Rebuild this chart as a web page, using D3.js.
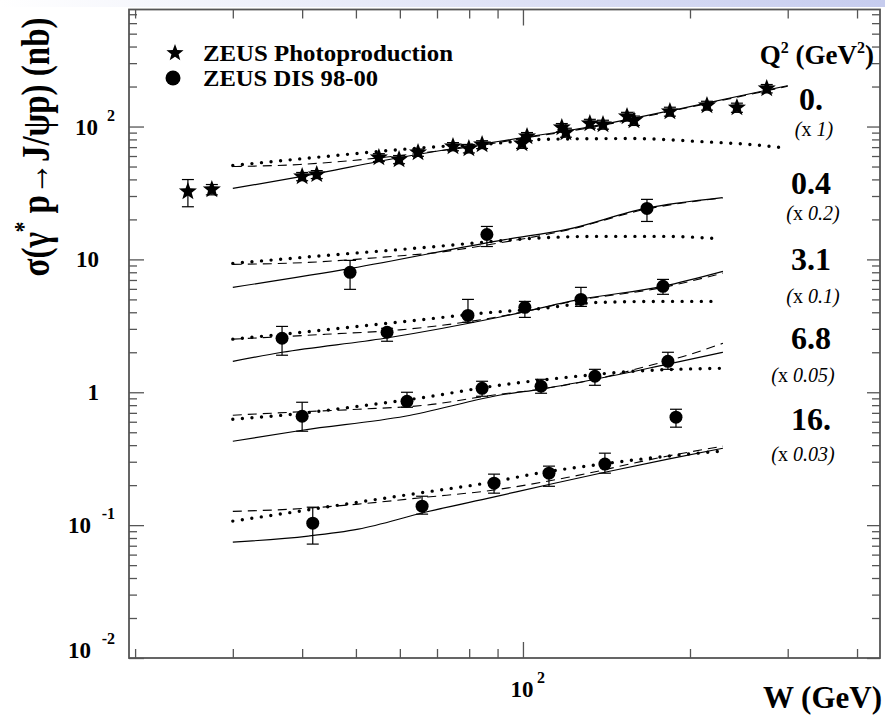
<!DOCTYPE html>
<html>
<head>
<meta charset="utf-8">
<script src="https://cdn.jsdelivr.net/npm/d3@7"></script>
<style>
  body { margin: 0; background: #fff; }
  svg { display: block; }
  text { font-family: "Liberation Serif", "Times New Roman", serif; font-weight: bold; fill: #000; }
</style>
</head>
<body>
<svg width="885" height="715"></svg>
<script>
// ---- data ----
// photoproduction, Q^2 = 0 (stars)
var photoW = [24.9, 27.5, 40.0, 42.5, 55.0, 59.8, 64.7, 74.8, 79.9, 84.4, 99.6, 101.7, 117.5, 119.5, 132.0, 139.4, 154, 158.5, 184, 214.6, 243, 275]
var photoSigma = [32.4, 33.6, 42.1, 43.6, 58.5, 56.5, 63.7, 70.7, 68.3, 73.2, 74.5, 84.1, 98.3, 90.1, 105.3, 103.5, 118.9, 110.9, 129.7, 143.9, 138.9, 193.1]
var photoErr = [7.5, 3, 3, 3, 4, 4, 4, 5, 5, 5, 6, 6, 7, 7, 8, 8, 9, 9, 10, 11, 11, 14]

// DIS 98-00, already multiplied by the factor shown on the right
var dis04W = [48.8, 86.1, 167.3]
var dis04Sigma = [7.99, 15.4, 24.2]
var dis04Lo = [5.95, 12.5, 19.3]
var dis04Hi = [9.83, 17.7, 28.3]

var dis31W = [36.8, 56.9, 79.6, 100.8, 127.2, 178.8]
var dis31Sigma = [2.55, 2.83, 3.79, 4.36, 5.0, 6.27]
var dis31Lo = [1.90, 2.42, 3.36, 3.66, 4.43, 5.46]
var dis31Hi = [3.13, 3.03, 5.0, 4.83, 6.16, 7.07]

var dis68W = [40.0, 61.8, 84.4, 107.8, 134.8, 182.5]
var dis68Sigma = [0.66, 0.855, 1.07, 1.11, 1.32, 1.71]
var dis68Lo = [0.509, 0.771, 0.933, 0.983, 1.128, 1.488]
var dis68Hi = [0.841, 1.0, 1.21, 1.252, 1.488, 2.0]

var dis16W = [41.8, 65.8, 88.7, 111.4, 140.5, 188.7]
var dis16Sigma = [0.1035, 0.139, 0.207, 0.246, 0.288, 0.649]
var dis16Lo = [0.072, 0.121, 0.174, 0.196, 0.246, 0.546]
var dis16Hi = [0.1365, 0.165, 0.242, 0.278, 0.348, 0.745]

// model curves [W, sigma]
var q0Solid = [[30, 34.2], [40, 42.1], [60, 58.5], [100, 82.5], [130, 98.3], [200, 141.4], [300, 203]]
var q0Dashed = [[30, 50.0], [39.6, 51.8], [49.2, 55.5], [66.6, 63.7], [83.7, 72.0], [100, 81.5], [130, 97], [200, 140], [300, 201]]
var q0Dotted = [[30, 50.9], [44, 59.5], [66.6, 69.5], [92.8, 75.8], [104, 79.8], [158, 81.2], [208, 77.1], [257, 73.2], [293, 69.5]]

var q04Solid = [[30, 6.16], [49, 8.56], [92.8, 14.1], [120, 16.8], [166, 24.2], [229, 29.2]]
var q04Dashed = [[30, 9.17], [41, 9.49], [58.1, 10.53], [70.3, 11.29], [87.2, 12.96], [120, 16.6], [166, 23.8], [229, 29.0]]
var q04Dotted = [[30, 9.33], [44, 10.7], [66.6, 12.3], [92.8, 13.9], [104, 14.4], [137.6, 14.9], [181.6, 14.9], [219.7, 14.4]]

var q31Solid = [[30, 1.71], [36.8, 2.0], [56.4, 2.55], [92.8, 3.75], [126.7, 5.0], [178.8, 6.27], [229.3, 8.12]]
var q31Dashed = [[30, 2.51], [44, 2.73], [60, 2.95], [76, 3.3], [92.8, 3.78], [126.7, 4.95], [178.8, 6.15], [229.3, 7.9]]
var q31Dotted = [[30, 2.51], [38.4, 2.78], [50.5, 3.13], [66.6, 3.54], [88, 4.0], [104.2, 4.21], [137.6, 4.75], [181.6, 4.83], [226.6, 4.83]]

var q68Solid = [[30, 0.428], [40, 0.518], [61.3, 0.66], [92.8, 0.966], [107.3, 1.053], [134.8, 1.252], [181.6, 1.623], [229.3, 2.0]]
var q68Dashed = [[30, 0.672], [38.4, 0.708], [50.5, 0.745], [66.6, 0.799], [88, 0.949], [107.3, 1.054], [137.6, 1.274], [164.5, 1.542], [197.5, 1.897], [229.3, 2.335]]
var q68Dotted = [[30, 0.627], [38.4, 0.683], [50.5, 0.785], [66.6, 0.917], [88, 1.11], [120, 1.296], [157.9, 1.438], [229.3, 1.515]]

var q16Solid = [[30, 0.0745], [41, 0.0827], [50.5, 0.0933], [66.6, 0.125], [88, 0.162], [111.9, 0.203], [140.5, 0.25], [181.6, 0.313], [229.3, 0.379]]
var q16Dashed = [[30, 0.127], [38.4, 0.132], [50.5, 0.144], [66.6, 0.162], [88, 0.183], [120, 0.228], [181.6, 0.33], [229.3, 0.393]]
var q16Dotted = [[30, 0.1072], [38.4, 0.125], [50.5, 0.149], [66.6, 0.177], [88, 0.211], [104.2, 0.242], [137.6, 0.287], [181.6, 0.33], [226.6, 0.36]]

// ticks and labels
var xMinorTicks = [20, 30, 40, 50, 60, 70, 80, 90, 200, 300, 400]
var xMajorTicks = [100]
var yMajorTicks = [0.01, 0.1, 1, 10, 100]
var yMinorTicks = [0.02, 0.03, 0.04, 0.05, 0.06, 0.07, 0.08, 0.09,
  0.2, 0.3, 0.4, 0.5, 0.6, 0.7, 0.8, 0.9, 2, 3, 4, 5, 6, 7, 8, 9,
  20, 30, 40, 50, 60, 70, 80, 90, 200, 300, 400, 500, 600, 700]
var yLabelBase = ["10", "10", "1", "10", "10"]
var yLabelExp = ["-2", "-1", "", "", "2"]
var qLabels = ["0.", "0.4", "3.1", "6.8", "16."]
var qFactors = ["1", "0.2", "0.1", "0.05", "0.03"]

// ---- layout ----
var svg = d3.select("svg")
var plotL = 129, plotR = 880, plotT = 9.5, plotB = 658

var x = d3.scaleLog().domain([19.5, 440]).range([plotL, plotR])
var y = d3.scaleLog().domain([0.01, 760]).range([plotB, plotT])

// light slide band at the very top
var grad = svg.append("defs").append("linearGradient").attr("id", "band")
grad.append("stop").attr("offset", "0%").attr("stop-color", "#ffffff")
grad.append("stop").attr("offset", "100%").attr("stop-color", "#c6ccee")
svg.append("rect").attr("x", 0).attr("y", 0).attr("width", 885).attr("height", 7).attr("fill", "url(#band)")

// ticks on all four sides
var tickColor = "#555"
function ticks(axis, values, size, tx, ty) {
  var g = svg.append("g")
    .attr("transform", "translate(" + tx + "," + ty + ")")
    .call(axis.tickValues(values).tickSize(size).tickFormat(""))
  g.select(".domain").remove()
  g.selectAll("line").attr("stroke", tickColor).attr("stroke-width", 1.3)
}
ticks(d3.axisTop(x), xMinorTicks, 9, 0, plotB)
ticks(d3.axisTop(x), xMajorTicks, 16, 0, plotB)
ticks(d3.axisBottom(x), xMinorTicks, 9, 0, plotT)
ticks(d3.axisBottom(x), xMajorTicks, 16, 0, plotT)
ticks(d3.axisRight(y), yMinorTicks, 8, plotL, 0)
ticks(d3.axisRight(y), yMajorTicks, 15, plotL, 0)
ticks(d3.axisLeft(y), yMinorTicks, 8, plotR, 0)
ticks(d3.axisLeft(y), yMajorTicks, 13, plotR, 0)

// frame
svg.append("rect")
  .attr("x", plotL).attr("y", plotT)
  .attr("width", plotR - plotL).attr("height", plotB - plotT)
  .attr("fill", "none").attr("stroke", tickColor).attr("stroke-width", 1.8)

// y tick labels
yMajorTicks.forEach(function(v, i) {
  var base = yLabelBase[i], exp = yLabelExp[i]
  var yy = y(v) + 8 - (v === 0.01 ? 8 : 0)
  if (exp === "") {
    svg.append("text").attr("x", 99).attr("y", yy)
      .attr("text-anchor", "end").style("font-size", "23px").text(base)
  } else {
    svg.append("text").attr("x", exp.length > 1 ? 91 : 98).attr("y", yy)
      .attr("text-anchor", "end").style("font-size", "23px").text(base)
    svg.append("text").attr("x", 115).attr("y", yy - 14)
      .attr("text-anchor", "end").style("font-size", "16px").text(exp)
  }
})

// x tick label
svg.append("text").attr("x", x(100) - 1).attr("y", 697)
  .attr("text-anchor", "middle").style("font-size", "23px").text("10")
svg.append("text").attr("x", x(100) + 14).attr("y", 683)
  .attr("text-anchor", "start").style("font-size", "16px").text("2")

// axis titles
svg.append("text").attr("x", 882).attr("y", 708)
  .attr("text-anchor", "end").style("font-size", "31px").text("W (GeV)")

var yt = svg.append("text")
  .attr("transform", "translate(49,147) scale(1.2,1) rotate(-90)")
  .attr("text-anchor", "middle").style("font-size", "33px")
yt.append("tspan").text("σ(γ")
yt.append("tspan").attr("dy", -14).style("font-size", "21px").text("*")
yt.append("tspan").attr("dy", 14).text(" p→J/ψp) (nb)")

// model curves
var line = d3.line()
  .x(function(d) { return x(d[0]) })
  .y(function(d) { return y(d[1]) })
  .curve(d3.curveMonotoneX)

var solids = [q0Solid, q04Solid, q31Solid, q68Solid, q16Solid]
var dashes = [q0Dashed, q04Dashed, q31Dashed, q68Dashed, q16Dashed]
var dots = [q0Dotted, q04Dotted, q31Dotted, q68Dotted, q16Dotted]

svg.append("g").selectAll("path").data(solids).enter().append("path")
  .attr("d", line).attr("fill", "none").attr("stroke", "#000").attr("stroke-width", 1.2)
svg.append("g").selectAll("path").data(dashes).enter().append("path")
  .attr("d", line).attr("fill", "none").attr("stroke", "#000").attr("stroke-width", 1.1)
  .attr("stroke-dasharray", "9 6")
svg.append("g").selectAll("path").data(dots).enter().append("path")
  .attr("d", line).attr("fill", "none").attr("stroke", "#000").attr("stroke-width", 3.4)
  .attr("stroke-linecap", "round").attr("stroke-dasharray", "0 9.6")

// markers
function starPath(R) {
  var p = []
  for (var k = 0; k < 10; k++) {
    var r = k % 2 ? R * 0.42 : R
    var a = -Math.PI / 2 + k * Math.PI / 5
    p.push([r * Math.cos(a), r * Math.sin(a)])
  }
  return "M" + p.map(function(q) { return q[0].toFixed(2) + "," + q[1].toFixed(2) }).join("L") + "Z"
}

function errorBar(g, px, lo, hi) {
  g.append("line").attr("x1", px).attr("x2", px).attr("y1", y(lo)).attr("y2", y(hi))
    .attr("stroke", "#000").attr("stroke-width", 1.2)
  ;[lo, hi].forEach(function(v) {
    g.append("line").attr("x1", px - 6).attr("x2", px + 6).attr("y1", y(v)).attr("y2", y(v))
      .attr("stroke", "#000").attr("stroke-width", 1.2)
  })
}

var pts = svg.append("g")
photoW.forEach(function(w, i) {
  errorBar(pts, x(w), photoSigma[i] - photoErr[i], photoSigma[i] + photoErr[i])
})
pts.selectAll(".star").data(photoW).enter().append("path")
  .attr("class", "star")
  .attr("transform", function(w, i) { return "translate(" + x(w) + "," + y(photoSigma[i]) + ")" })
  .attr("d", starPath(9.5)).attr("fill", "#000")

var disSets = [
  [dis04W, dis04Sigma, dis04Lo, dis04Hi],
  [dis31W, dis31Sigma, dis31Lo, dis31Hi],
  [dis68W, dis68Sigma, dis68Lo, dis68Hi],
  [dis16W, dis16Sigma, dis16Lo, dis16Hi]
]
disSets.forEach(function(s) {
  s[0].forEach(function(w, i) {
    errorBar(pts, x(w), s[2][i], s[3][i])
    pts.append("circle").attr("cx", x(w)).attr("cy", y(s[1][i])).attr("r", 6.5).attr("fill", "#000")
  })
})

// legend
svg.append("path").attr("transform", "translate(175,53)").attr("d", starPath(9)).attr("fill", "#000")
svg.append("text").attr("x", 203).attr("y", 61).style("font-size", "23px")
  .attr("textLength", 250).attr("lengthAdjust", "spacingAndGlyphs").text("ZEUS Photoproduction")
svg.append("circle").attr("cx", 173).attr("cy", 78).attr("r", 7.5).attr("fill", "#000")
svg.append("text").attr("x", 203).attr("y", 86).style("font-size", "23px")
  .attr("textLength", 175).attr("lengthAdjust", "spacingAndGlyphs").text("ZEUS DIS 98-00")

// Q^2 labels on the right
var qt = svg.append("text").attr("x", 874).attr("y", 64).attr("text-anchor", "end").style("font-size", "27px")
qt.append("tspan").text("Q")
qt.append("tspan").attr("dy", -11).style("font-size", "16px").text("2")
qt.append("tspan").attr("dy", 11).text(" (GeV")
qt.append("tspan").attr("dy", -11).style("font-size", "16px").text("2")
qt.append("tspan").attr("dy", 11).text(")")

var qBase = [110, 194, 270, 349, 430]
var fBase = [136, 220, 303, 382, 461]
var fCenter = [814, 813, 813, 803, 803]
qLabels.forEach(function(s, i) {
  svg.append("text").attr("x", 811).attr("y", qBase[i]).attr("text-anchor", "middle")
    .style("font-size", "32px").text(s)
  var f = svg.append("text").attr("x", fCenter[i]).attr("y", fBase[i]).attr("text-anchor", "middle")
    .style("font-size", "20px").style("font-weight", "normal").style("font-style", "italic")
  f.append("tspan").text("(")
  f.append("tspan").style("font-style", "normal").text("x ")
  f.append("tspan").text(qFactors[i] + ")")
})
</script>
</body>
</html>
